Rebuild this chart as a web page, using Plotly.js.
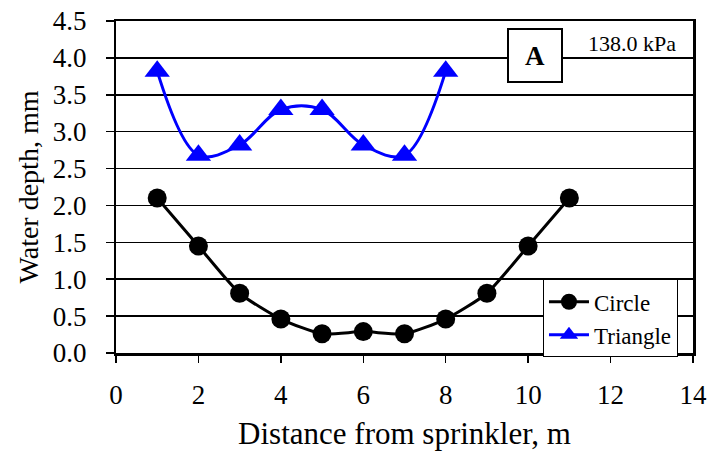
<!DOCTYPE html>
<html>
<head>
<meta charset="utf-8">
<script src="https://cdn.plot.ly/plotly-3.0.1.min.js"></script>
<style>html,body{margin:0;padding:0;background:#fff;}#chart{width:711px;height:454px;}</style>
</head>
<body>
<div id="chart"></div>
<script>
const circleX = [1, 2, 3, 4, 5, 6, 7, 8, 9, 10, 11];
const circleY = [2.10, 1.45, 0.81, 0.46, 0.26, 0.29, 0.26, 0.46, 0.81, 1.45, 2.10];
const triangleX = [1, 2, 3, 4, 5, 6, 7, 8];
const triangleY = [3.82, 2.68, 2.82, 3.30, 3.30, 2.82, 2.68, 3.82];
const xTicks = [0, 2, 4, 6, 8, 10, 12, 14];
const yTicks = [0, 0.5, 1.0, 1.5, 2.0, 2.5, 3.0, 3.5, 4.0, 4.5];

const font = "'Liberation Serif', 'Times New Roman', Times, serif";

const traces = [
  {
    x: circleX, y: circleY, name: "Circle", type: "scatter", mode: "lines+markers",
    line: {color: "#000000", width: 3, shape: "spline", smoothing: 0.6},
    marker: {symbol: "circle", size: 19, color: "#000000"}
  },
  {
    x: triangleX, y: triangleY, name: "Triangle", type: "scatter", mode: "lines+markers",
    line: {color: "#0000ff", width: 3, shape: "spline", smoothing: 1},
    marker: {symbol: "triangle-up", size: 22, color: "#0000ff"}
  }
];

const layout = {
  width: 711, height: 454,
  margin: {l: 116, r: 18, t: 21, b: 101},
  paper_bgcolor: "#ffffff", plot_bgcolor: "#ffffff",
  font: {family: font, color: "#000000", size: 24},
  showlegend: true,
  legend: {
    x: 0.740, y: 0.222, xanchor: "left", yanchor: "top",
    bgcolor: "#ffffff", bordercolor: "#000000", borderwidth: 1,
    font: {family: font, size: 23, color: "#000000"},
    itemwidth: 40
  },
  xaxis: {
    range: [0, 14], tickvals: xTicks, ticktext: xTicks.map(String),
    showgrid: false, zeroline: false,
    showline: true, linecolor: "#000000", linewidth: 2.5, mirror: true,
    ticks: "outside", ticklen: 7, tickwidth: 1.5, tickcolor: "#000000",
    ticklabelstandoff: 9,
    tickfont: {family: font, size: 27, color: "#000000"},
    title: {text: "Distance from sprinkler, m", font: {family: font, size: 31, color: "#000000"}, standoff: 14}
  },
  yaxis: {
    range: [0, 4.5], tickvals: yTicks, ticktext: yTicks.map(v => v.toFixed(1) + "\u2002"),
    showgrid: true, gridcolor: "#000000", gridwidth: 1.5, zeroline: false,
    showline: true, linecolor: "#000000", linewidth: 2.5, mirror: true,
    ticks: "outside", ticklen: 8, tickwidth: 1.5, tickcolor: "#000000",
    tickfont: {family: font, size: 27, color: "#000000"},
    title: {text: "Water depth, mm", font: {family: font, size: 28, color: "#000000"}, standoff: 6}
  },
  annotations: [
    {
      xref: "paper", yref: "paper", x: (535 - 116) / 577, y: (353 - 56) / 332,
      text: "<b>A</b>", showarrow: false, xanchor: "center", yanchor: "middle",
      font: {family: font, size: 27, color: "#000000"},
      bgcolor: "#ffffff", bordercolor: "#000000", borderwidth: 2,
      width: 52, height: 51, borderpad: 0
    },
    {
      xref: "paper", yref: "paper", x: (632 - 116) / 577, y: (353 - 43) / 332,
      text: "138.0 kPa", showarrow: false, xanchor: "center", yanchor: "middle",
      font: {family: font, size: 22, color: "#000000"}
    }
  ]
};

Plotly.newPlot("chart", traces, layout, {displayModeBar: false, staticPlot: true});
</script>
</body>
</html>
